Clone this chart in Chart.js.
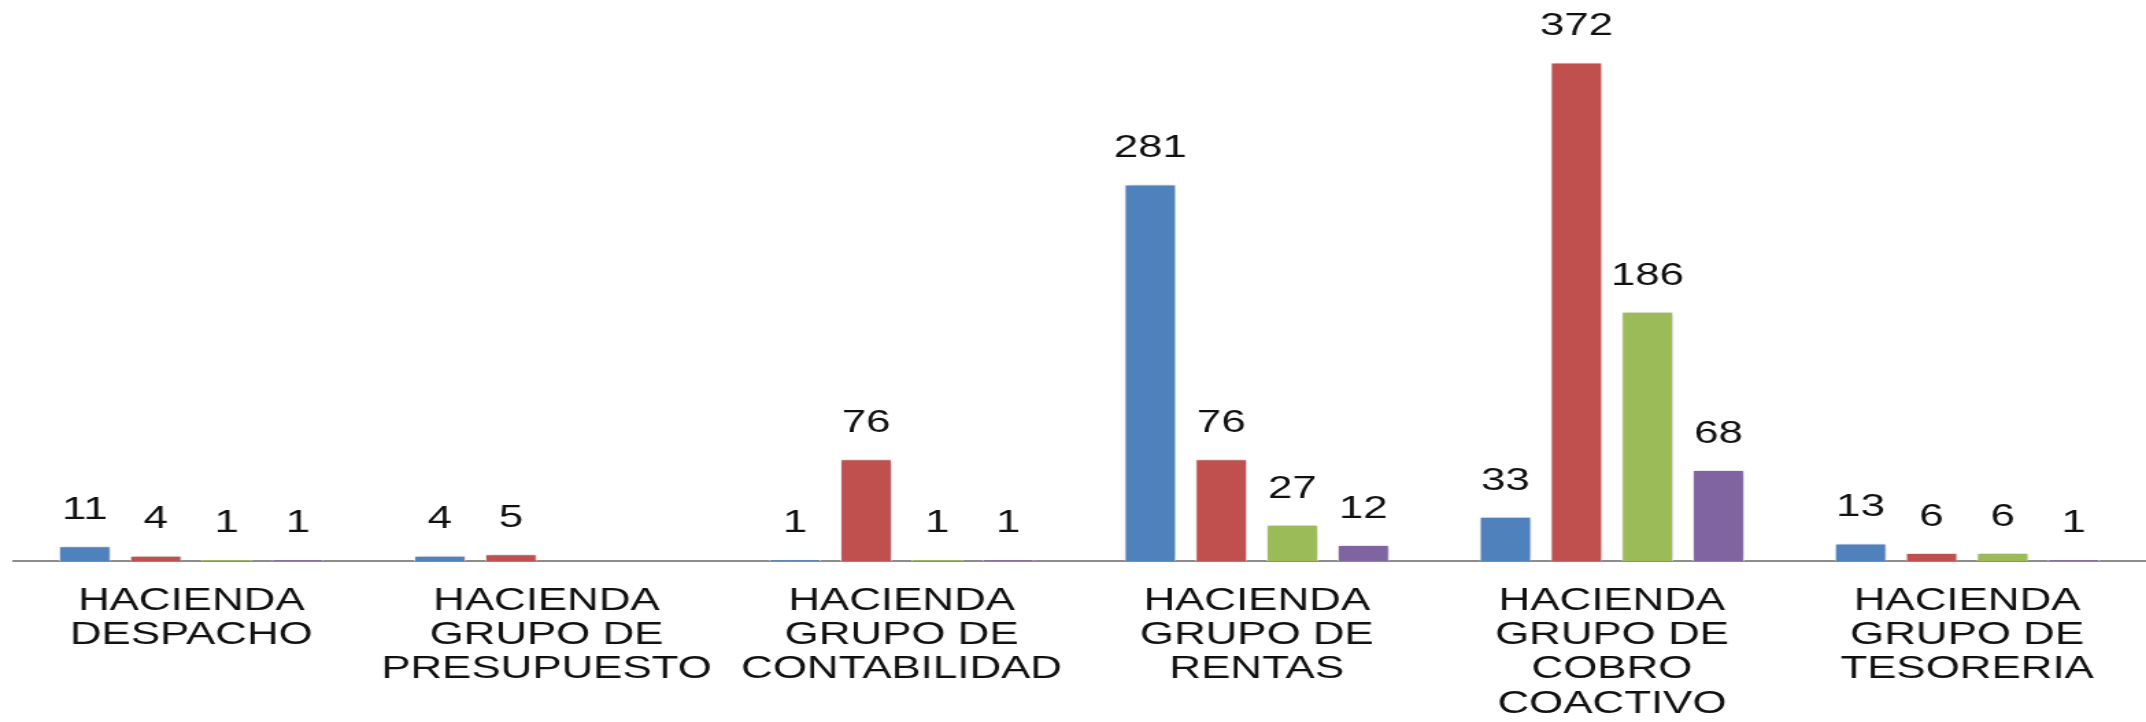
<!DOCTYPE html>
<html>
<head>
<meta charset="utf-8">
<script src="https://cdn.jsdelivr.net/npm/chart.js@4.4.1/dist/chart.umd.min.js"></script>
<style>
  html, body { margin: 0; padding: 0; background: #ffffff; overflow: hidden; }
  /* the original picture is stretched sideways, so draw narrower and widen it */
  #wrap { width: 1566px; height: 722px; transform: scaleX(1.3704); transform-origin: 0 0; }
</style>
</head>
<body>
<div id="wrap"><canvas id="chart" width="1566" height="722"></canvas></div>
<script>
// categories (multi-line tick labels)
const categories = [
    ['HACIENDA', 'DESPACHO'],
    ['HACIENDA', 'GRUPO DE', 'PRESUPUESTO'],
    ['HACIENDA', 'GRUPO DE', 'CONTABILIDAD'],
    ['HACIENDA', 'GRUPO DE', 'RENTAS'],
    ['HACIENDA', 'GRUPO DE', 'COBRO', 'COACTIVO'],
    ['HACIENDA', 'GRUPO DE', 'TESORERIA']
];

// series values (null = no bar)
const serie1 = [11, 4, 1, 281, 33, 13];
const serie2 = [4, 5, 76, 76, 372, 6];
const serie3 = [1, null, 1, 27, 186, 6];
const serie4 = [1, null, 1, 12, 68, 1];

const seriesColors = ['#4F81BD', '#C0504D', '#9BBB59', '#8064A2'];

// Shadow under the bars plus the value labels on top
const barExtras = {
    id: 'barExtras',
    beforeDatasetsDraw(chart) {
        const ctx = chart.ctx;
        ctx.save();
        ctx.shadowColor = 'rgba(0, 0, 0, 0.25)';
        ctx.shadowBlur = 5;
        ctx.shadowOffsetX = 1.2;
        ctx.shadowOffsetY = 0;
    },
    afterDatasetsDraw(chart) {
        const ctx = chart.ctx;
        ctx.restore();
        ctx.save();
        ctx.font = '32px "Liberation Sans", Arial, sans-serif';
        ctx.fillStyle = '#111111';
        ctx.textAlign = 'center';
        ctx.textBaseline = 'bottom';
        chart.data.datasets.forEach((ds, i) => {
            const meta = chart.getDatasetMeta(i);
            meta.data.forEach((bar, j) => {
                const v = ds.data[j];
                if (v === null || v === undefined) return;
                ctx.fillText(String(v), bar.x, bar.y - 20);
            });
        });
        ctx.restore();
    }
};

const ctx = document.getElementById('chart').getContext('2d');
new Chart(ctx, {
    type: 'bar',
    data: {
        labels: categories,
        datasets: [serie1, serie2, serie3, serie4].map((d, i) => ({
            label: 'Serie ' + (i + 1),
            data: d,
            backgroundColor: seriesColors[i],
            borderColor: 'rgba(255, 255, 255, 0.7)',
            borderWidth: 1,
            categoryPercentage: 0.8,
            barPercentage: 0.73
        }))
    },
    options: {
        responsive: false,
        maintainAspectRatio: false,
        animation: false,
        layout: { padding: { top: 25, left: 10, right: 1, bottom: 0 } },
        plugins: {
            legend: { display: false },
            tooltip: { enabled: false }
        },
        scales: {
            x: {
                grid: { display: true, drawOnChartArea: false, drawTicks: false, color: 'transparent' },
                border: { display: true, color: '#8c8c8c', width: 2 },
                ticks: {
                    color: '#111111',
                    padding: 23,
                    maxRotation: 0,
                    autoSkip: false,
                    font: { family: '"Liberation Sans", Arial, sans-serif', size: 32, lineHeight: 1.07 }
                },
                afterFit(axis) { axis.height = 161; }
            },
            y: {
                display: false,
                min: 0,
                max: 400
            }
        }
    },
    plugins: [barExtras]
});
</script>
</body>
</html>
